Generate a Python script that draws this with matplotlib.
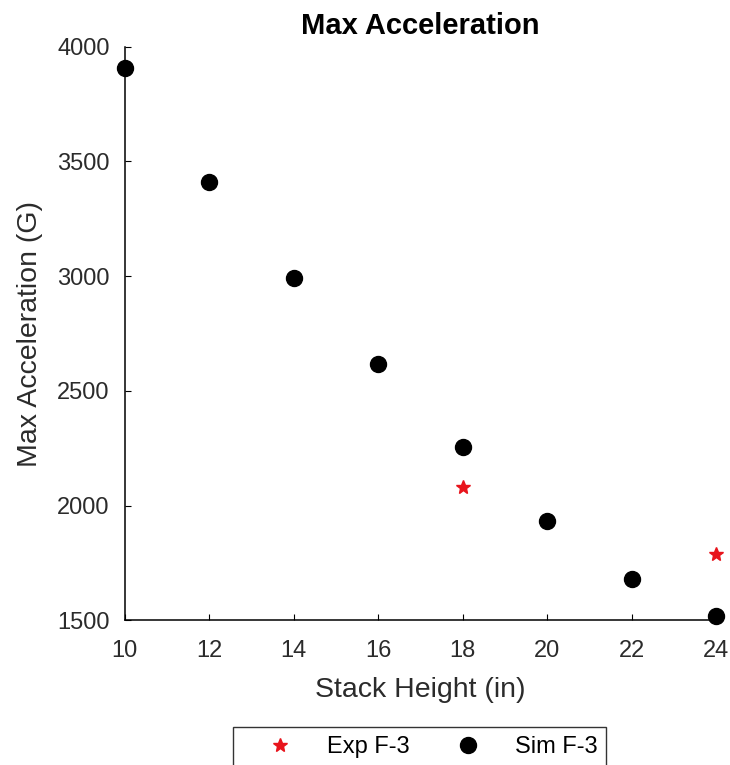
import matplotlib
matplotlib.use("Agg")
import matplotlib.pyplot as plt

plt.rcParams['font.family'] = ['Liberation Sans', 'DejaVu Sans']

# Stack heights (in) and maximum acceleration (G)
sim_height = [10, 12, 14, 16, 18, 20, 22, 24]
sim_accel = [3905, 3410, 2990, 2618, 2256, 1934, 1682, 1520]
exp_height = [18, 24]
exp_accel = [2083, 1790]

x_ticks = [10, 12, 14, 16, 18, 20, 22, 24]
y_ticks = [1500, 2000, 2500, 3000, 3500, 4000]

axis_color = '#2b2b2b'

fig = plt.figure(figsize=(7.30, 7.65), dpi=100)
ax = fig.add_axes([0.171, 0.189, 0.810, 0.750])

ax.plot(exp_height, exp_accel, linestyle='none', marker='*', color='#e8141c',
        markersize=10, clip_on=False, label='Exp F-3', zorder=3)
ax.plot(sim_height, sim_accel, linestyle='none', marker='o', color='black',
        markersize=11.5, clip_on=False, label='Sim F-3', zorder=3)

ax.set_xlim(10, 24)
ax.set_ylim(1500, 4000)
ax.set_xticks(x_ticks)
ax.set_yticks(y_ticks)

for side in ('top', 'right'):
    ax.spines[side].set_visible(False)
for side in ('left', 'bottom'):
    ax.spines[side].set_color('black')
    ax.spines[side].set_linewidth(1.1)

ax.tick_params(direction='in', length=4, width=0.8, colors='black',
               labelcolor=axis_color, labelsize=17)
ax.tick_params(axis='y', pad=11)
ax.tick_params(axis='x', pad=14)

ax.set_xlabel('Stack Height (in)', fontsize=20.5, color=axis_color, labelpad=11)
ax.set_ylabel('Max Acceleration (G)', fontsize=20.5, color=axis_color, labelpad=10)
ax.set_title('Max Acceleration', fontsize=21, fontweight='bold', color='black', pad=9)

leg = fig.legend(loc='upper center', bbox_to_anchor=(0.575, 0.0497), ncol=2,
                 fontsize=17, frameon=True, fancybox=False, edgecolor='black',
                 columnspacing=0.85, handletextpad=0.4, borderpad=0.38,
                 handlelength=3.2, borderaxespad=0)
leg.get_frame().set_linewidth(1.0)
for txt in leg.get_texts():
    txt.set_color('black')

fig.savefig('out.png', dpi=100)
